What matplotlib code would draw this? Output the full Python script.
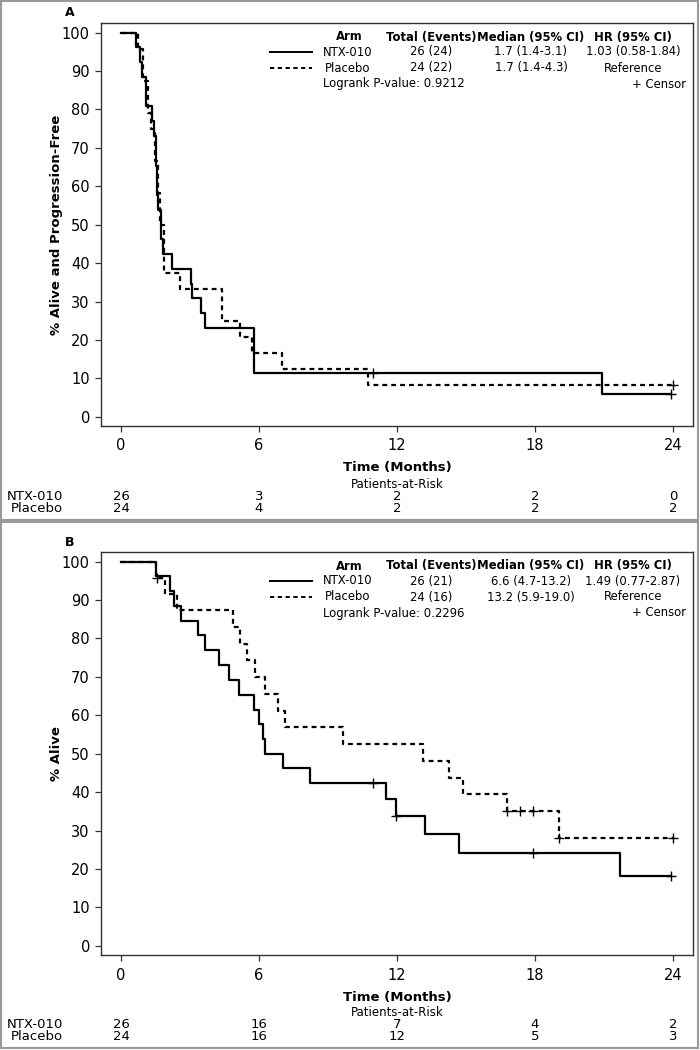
import matplotlib
matplotlib.use("Agg")
import matplotlib.pyplot as plt
from matplotlib.lines import Line2D
from matplotlib.patches import Rectangle
from matplotlib import transforms

# ---- Panel A: progression-free survival ----
pfs_ntx_t = [0, 0.64, 0.83, 0.9, 1.1, 1.33, 1.43, 1.5, 1.55, 1.62, 1.73, 1.84, 2.2,
             3.03, 3.1, 3.48, 3.65, 5.78, 20.9, 23.9]
pfs_ntx_s = [100, 96.2, 92.3, 88.5, 80.8, 76.9, 73.1, 65.4, 57.7, 53.8, 46.2, 42.3, 38.5,
             34.6, 30.8, 26.9, 23.1, 11.5, 5.8, 5.8]
pfs_ntx_cens_t = [10.95, 23.9]
pfs_ntx_cens_s = [11.5, 5.8]

pfs_pbo_t = [0, 0.75, 0.97, 1.19, 1.3, 1.48, 1.6, 1.7, 1.87, 2.57, 4.4, 5.17, 5.68,
             6.98, 10.75, 24.0]
pfs_pbo_s = [100, 95.8, 87.5, 79.2, 75.0, 66.7, 58.3, 50.0, 37.5, 33.3, 25.0, 20.8, 16.7,
             12.5, 8.3, 8.3]
pfs_pbo_cens_t = [24.0]
pfs_pbo_cens_s = [8.3]

pfs_legend = [["26 (24)", "1.7 (1.4-3.1)", "1.03 (0.58-1.84)"],
              ["24 (22)", "1.7 (1.4-4.3)", "Reference"]]
pfs_pvalue = "Logrank P-value: 0.9212"
pfs_risk_ntx = [26, 3, 2, 2, 0]
pfs_risk_pbo = [24, 4, 2, 2, 2]

# ---- Panel B: overall survival ----
os_ntx_t = [0, 1.52, 2.15, 2.3, 2.6, 3.34, 3.65, 4.26, 4.7, 5.14, 5.8, 6.01, 6.16, 6.26,
            7.03, 8.22, 11.5, 11.96, 13.2, 14.7, 21.7, 23.9]
os_ntx_s = [100, 96.2, 92.3, 88.5, 84.6, 80.8, 76.9, 73.1, 69.2, 65.4, 61.5, 57.7, 53.8, 50.0,
            46.2, 42.3, 38.1, 33.8, 29.0, 24.2, 18.1, 18.1]
os_ntx_cens_t = [10.97, 11.95, 17.93, 23.9]
os_ntx_cens_s = [42.3, 33.8, 24.2, 18.1]

os_pbo_t = [0, 1.52, 1.91, 2.45, 4.88, 5.17, 5.46, 5.83, 6.26, 6.84, 7.13, 9.64, 13.14,
            14.28, 14.88, 16.77, 19.06, 24.0]
os_pbo_s = [100, 95.8, 91.5, 87.3, 83.0, 78.6, 74.3, 69.9, 65.6, 61.2, 56.9, 52.5, 48.1,
            43.7, 39.4, 35.0, 28.0, 28.0]
os_pbo_cens_t = [1.55, 16.77, 17.35, 17.93, 19.06, 24.0]
os_pbo_cens_s = [95.8, 35.0, 35.0, 35.0, 28.0, 28.0]

os_legend = [["26 (21)", "6.6 (4.7-13.2)", "1.49 (0.77-2.87)"],
             ["24 (16)", "13.2 (5.9-19.0)", "Reference"]]
os_pvalue = "Logrank P-value: 0.2296"
os_risk_ntx = [26, 16, 7, 4, 2]
os_risk_pbo = [24, 16, 12, 5, 3]

arms = ["NTX-010", "Placebo"]
risk_times = [0, 6, 12, 18, 24]
headers = ["Arm", "Total (Events)", "Median (95% CI)", "HR (95% CI)"]

W, H = 700, 1050
NARROW = ["Liberation Sans Narrow", "DejaVu Sans"]
DASH = (0, (2.2, 1.8))


def fx(x):
    return x / W


def fy(y):
    return 1 - y / H


fig = plt.figure(figsize=(7, 10.5), dpi=100)

panels = [
    ("A", 0, "% Alive and Progression-Free",
     (pfs_ntx_t, pfs_ntx_s, pfs_ntx_cens_t, pfs_ntx_cens_s),
     (pfs_pbo_t, pfs_pbo_s, pfs_pbo_cens_t, pfs_pbo_cens_s),
     pfs_legend, pfs_pvalue, pfs_risk_ntx, pfs_risk_pbo),
    ("B", 529, "% Alive",
     (os_ntx_t, os_ntx_s, os_ntx_cens_t, os_ntx_cens_s),
     (os_pbo_t, os_pbo_s, os_pbo_cens_t, os_pbo_cens_s),
     os_legend, os_pvalue, os_risk_ntx, os_risk_pbo),
]

for label, off, ylabel, ntx, pbo, legend, pvalue, risk_ntx, risk_pbo in panels:
    # grey frame round the panel
    top = 1 if off == 0 else 522
    bottom = 520 if off == 0 else 1048
    fig.add_artist(Rectangle((fx(1), fy(bottom)), fx(697), (bottom - top) / H,
                             transform=fig.transFigure, fill=False,
                             edgecolor="#9a9a9a", lw=1.5))

    ax = fig.add_axes([fx(101), fy(426 + off), fx(693) - fx(101), 403 / H])
    ax.step(ntx[0], ntx[1], where="post", color="black", lw=1.6)
    ax.step(pbo[0], pbo[1], where="post", color="black", lw=1.6, linestyle=DASH)
    ax.plot(ntx[2], ntx[3], "+", color="black", ms=7, mew=1)
    ax.plot(pbo[2], pbo[3], "+", color="black", ms=7, mew=1)

    ax.set_xlim(-0.87, 24.87)
    ax.set_ylim(-2.4, 102.5)
    ax.set_xticks(risk_times)
    ax.set_yticks(range(0, 101, 10))
    ax.tick_params(direction="out", length=4, width=0.9, color="#333333",
                   labelsize=10.5, pad=4)
    ax.tick_params(axis="x", pad=5)
    for t in ax.get_xticklabels() + ax.get_yticklabels():
        t.set_family(NARROW)
    for sp in ax.spines.values():
        sp.set_color("#333333")
        sp.set_linewidth(1)

    fig.text(fx(70), fy(13 + off), label, fontsize=9, fontweight="bold",
             ha="center", va="center")
    fig.text(fx(57), fy(225 + off), ylabel, rotation=90, fontsize=9.5,
             fontweight="bold", ha="center", va="center")
    fig.text(fx(397), fy(468 + off), "Time (Months)", fontsize=9.5,
             fontweight="bold", ha="center", va="center")
    fig.text(fx(397), fy(484 + off), "Patients-at-Risk", fontsize=8.5,
             family=NARROW, ha="center", va="center")

    # legend table
    cols = [349, 431, 531, 633]
    for x, h in zip(cols, headers):
        fig.text(fx(x), fy(37 + off), h, fontsize=8.4, fontweight="bold",
                 ha="center", va="center")
    for i, (arm, row) in enumerate(zip(arms, legend)):
        y = [52, 68][i] + off
        ls = "-" if i == 0 else DASH
        fig.add_artist(Line2D([fx(270), fx(312)], [fy(y), fy(y)], color="black",
                              lw=1.4, linestyle=ls, transform=fig.transFigure))
        fig.text(fx(348), fy(y), arm, fontsize=8.4, ha="center", va="center")
        for x, v in zip(cols[1:], row):
            fig.text(fx(x), fy(y), v, fontsize=8.4, ha="center", va="center")
    fig.text(fx(323), fy(84 + off), pvalue, fontsize=8.4, ha="left", va="center")
    fig.text(fx(686), fy(84 + off), "+ Censor", fontsize=8.4, ha="right", va="center")

    # patients-at-risk table under the axis
    trans = transforms.blended_transform_factory(ax.transData, fig.transFigure)
    for j, (arm, counts) in enumerate(zip(arms, [risk_ntx, risk_pbo])):
        y = fy([496, 508][j] + off)
        fig.text(fx(63), y, arm, fontsize=9.5, family=NARROW, ha="right", va="center")
        for x, n in zip(risk_times, counts):
            ax.text(x, y, str(n), transform=trans, fontsize=9.5, family=NARROW,
                    ha="center", va="center")

fig.savefig("out.png", dpi=100)
